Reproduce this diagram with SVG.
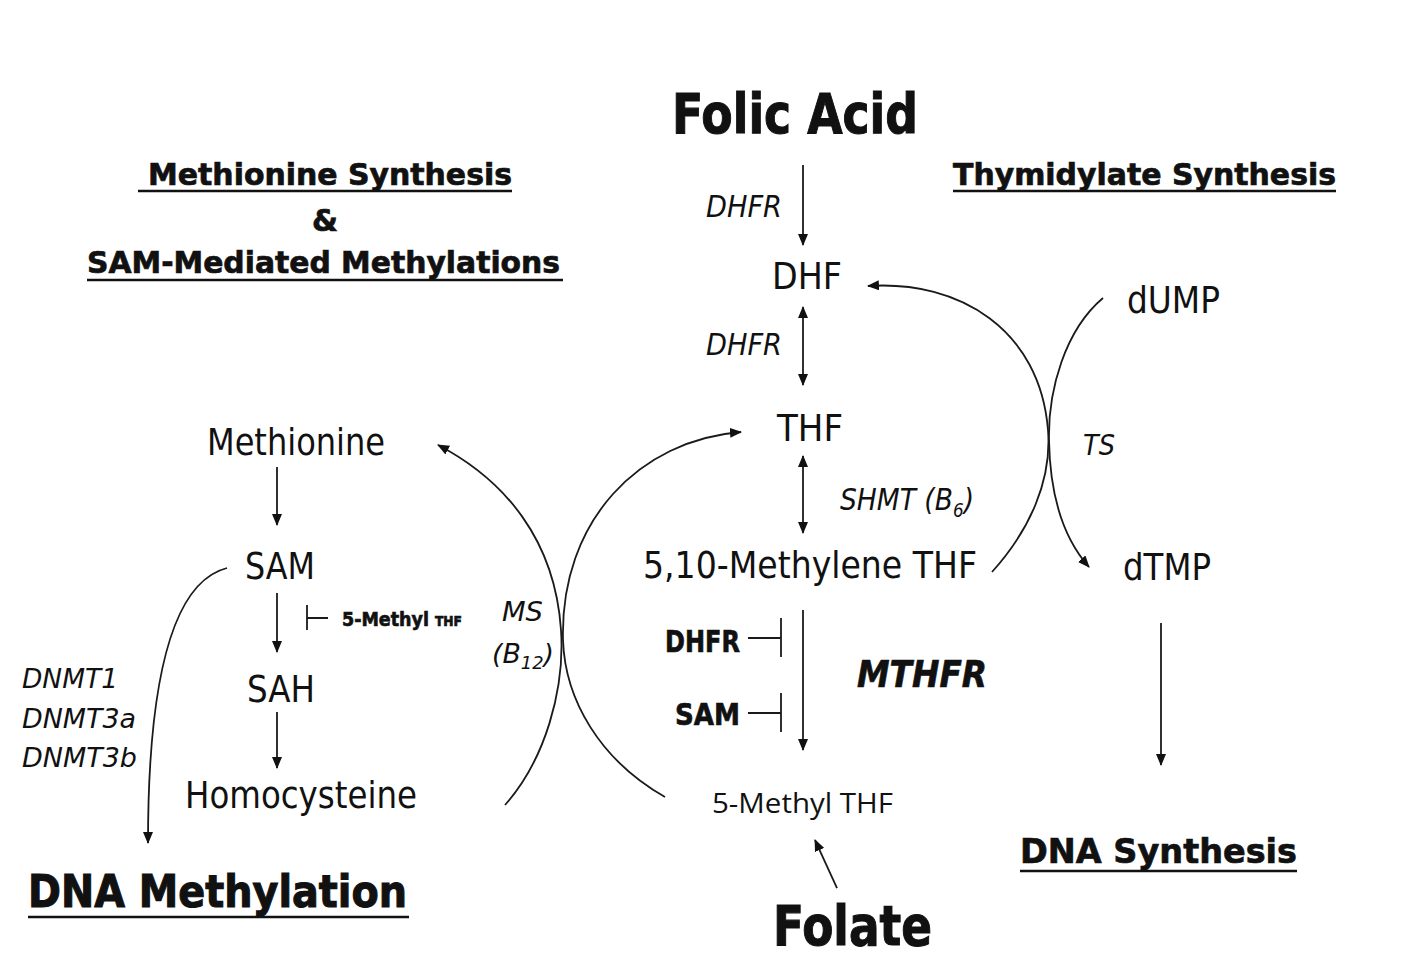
<svg xmlns="http://www.w3.org/2000/svg" width="1406" height="965" viewBox="0 0 1406 965">
<style>
.t{font-family:"DejaVu Sans","Liberation Sans",sans-serif;fill:#111}
.b{font-weight:bold;stroke:#111;stroke-width:0.7}
.bb{stroke-width:1.1}
.i{font-style:italic}
.c{font-family:"Open Sans","Noto Sans","Liberation Sans",sans-serif;fill:#111}
.ln{fill:none;stroke:#1a1a1a;stroke-width:1.8}
.ul{stroke:#111;stroke-width:2.6}
</style>
<defs>
<marker id="ah" viewBox="0 0 12 10" markerWidth="12" markerHeight="10" refX="11" refY="5" orient="auto-start-reverse" markerUnits="userSpaceOnUse">
<path d="M0,0 L12,5 L0,10 z" fill="#111"/>
</marker>
</defs>
<rect width="1406" height="965" fill="#fff"/>

<g id="folic-acid"><text class="t b bb" x="672" y="133" font-size="56" textLength="246" lengthAdjust="spacingAndGlyphs">Folic Acid</text></g>
<g id="heading-methionine">
<text class="t b" x="148" y="185" font-size="30" textLength="364" lengthAdjust="spacingAndGlyphs">Methionine Synthesis</text>
<line class="ul" x1="138" y1="191" x2="512" y2="191"/>
<text class="t b" x="312" y="231" font-size="30" textLength="26" lengthAdjust="spacingAndGlyphs">&amp;</text>
<text class="t b" x="87" y="273" font-size="30" textLength="473" lengthAdjust="spacingAndGlyphs">SAM-Mediated Methylations</text>
<line class="ul" x1="87" y1="280" x2="563" y2="280"/>
</g>
<g id="heading-thymidylate">
<text class="t b" x="953" y="185" font-size="30" textLength="383" lengthAdjust="spacingAndGlyphs">Thymidylate Synthesis</text>
<line class="ul" x1="953" y1="191" x2="1336" y2="191"/>
</g>
<g id="dhfr-label-1"><text class="t i" x="706" y="217" font-size="30" textLength="76" lengthAdjust="spacingAndGlyphs">DHFR</text></g>
<g id="dhf"><text class="t" x="772" y="289" font-size="38" textLength="70" lengthAdjust="spacingAndGlyphs">DHF</text></g>
<g id="dhfr-label-2"><text class="t i" x="706" y="355" font-size="30" textLength="76" lengthAdjust="spacingAndGlyphs">DHFR</text></g>
<g id="thf"><text class="t" x="777" y="441" font-size="38" textLength="66" lengthAdjust="spacingAndGlyphs">THF</text></g>
<g id="shmt-label"><text class="t i" x="840" y="510" font-size="30" textLength="134" lengthAdjust="spacingAndGlyphs">SHMT (B<tspan font-size="19" dy="7">6</tspan><tspan dy="-7">)</tspan></text></g>
<g id="methylene-thf"><text class="t" x="643" y="578" font-size="38" textLength="334" lengthAdjust="spacingAndGlyphs">5,10-Methylene THF</text></g>
<g id="dhfr-inhibitor"><text class="t b" x="665" y="652" font-size="30" textLength="75" lengthAdjust="spacingAndGlyphs">DHFR</text></g>
<g id="sam-inhibitor"><text class="t b" x="675" y="725" font-size="30" textLength="65" lengthAdjust="spacingAndGlyphs">SAM</text></g>
<g id="mthfr-label"><text class="t b i" x="857" y="687" font-size="37" textLength="130" lengthAdjust="spacingAndGlyphs">MTHFR</text></g>
<g id="methyl-thf"><text class="c" x="712" y="813" font-size="28" textLength="181" lengthAdjust="spacingAndGlyphs">5-Methyl THF</text></g>
<g id="folate"><text class="t b bb" x="773" y="945" font-size="55" textLength="159" lengthAdjust="spacingAndGlyphs">Folate</text></g>
<g id="dump"><text class="t" x="1127" y="313" font-size="38" textLength="93" lengthAdjust="spacingAndGlyphs">dUMP</text></g>
<g id="ts-label"><text class="t i" x="1083" y="455" font-size="28" textLength="32" lengthAdjust="spacingAndGlyphs">TS</text></g>
<g id="dtmp"><text class="t" x="1123" y="580" font-size="38" textLength="88" lengthAdjust="spacingAndGlyphs">dTMP</text></g>
<g id="dna-synthesis">
<text class="t b" x="1020" y="863" font-size="34" textLength="277" lengthAdjust="spacingAndGlyphs">DNA Synthesis</text>
<line class="ul" x1="1020" y1="871" x2="1297" y2="871"/>
</g>
<g id="methionine"><text class="t" x="207" y="455" font-size="38" textLength="178" lengthAdjust="spacingAndGlyphs">Methionine</text></g>
<g id="sam"><text class="t" x="245" y="579" font-size="38" textLength="70" lengthAdjust="spacingAndGlyphs">SAM</text></g>
<g id="methyl-thf-inhibitor"><text class="t b" x="342" y="626" font-size="20" stroke-width="0.3" textLength="120" lengthAdjust="spacingAndGlyphs">5-Methyl <tspan font-size="14">THF</tspan></text></g>
<g id="ms-label">
<text class="t i" x="502" y="621" font-size="27" textLength="41" lengthAdjust="spacingAndGlyphs">MS</text>
<text class="t i" x="492" y="663" font-size="27" textLength="62" lengthAdjust="spacingAndGlyphs">(B<tspan font-size="18" dy="6">12</tspan><tspan dy="-6">)</tspan></text>
</g>
<g id="sah"><text class="t" x="247" y="702" font-size="38" textLength="68" lengthAdjust="spacingAndGlyphs">SAH</text></g>
<g id="homocysteine"><text class="t" x="185" y="808" font-size="38" textLength="232" lengthAdjust="spacingAndGlyphs">Homocysteine</text></g>
<g id="dnmt-labels">
<text class="t i" x="22" y="688" font-size="27" textLength="96" lengthAdjust="spacingAndGlyphs">DNMT1</text>
<text class="t i" x="22" y="728" font-size="27" textLength="114" lengthAdjust="spacingAndGlyphs">DNMT3a</text>
<text class="t i" x="22" y="767" font-size="27" textLength="115" lengthAdjust="spacingAndGlyphs">DNMT3b</text>
</g>
<g id="dna-methylation">
<text class="t b bb" x="28" y="907" font-size="44" textLength="379" lengthAdjust="spacingAndGlyphs">DNA Methylation</text>
<line class="ul" x1="28" y1="917" x2="409" y2="917" stroke-width="3"/>
</g>

<g id="connectors">
<path class="ln" d="M803 165 L803 245" marker-end="url(#ah)"/>
<path class="ln" d="M803 307 L803 385" marker-start="url(#ah)" marker-end="url(#ah)"/>
<path class="ln" d="M803 456 L803 533" marker-start="url(#ah)" marker-end="url(#ah)"/>
<path class="ln" d="M803 610 L803 750" marker-end="url(#ah)"/>
<path class="ln" d="M748 638 H781 M781 618 V657"/>
<path class="ln" d="M748 713 H781 M781 693 V732"/>
<path class="ln" d="M837 888 L815 840" marker-end="url(#ah)"/>
<path class="ln" d="M277 467 L277 525" marker-end="url(#ah)"/>
<path class="ln" d="M277 593 L277 652" marker-end="url(#ah)"/>
<path class="ln" d="M277 712 L277 768" marker-end="url(#ah)"/>
<path class="ln" d="M307 605 V630 M307 618 H328"/>
<path class="ln" d="M227 568 C172 582 148 680 148 843" marker-end="url(#ah)"/>
<path class="ln" d="M505 805 C545 760 565 690 561 630 C555 540 505 480 438 445" marker-end="url(#ah)"/>
<path class="ln" d="M665 797 C600 760 565 700 563 640 C560 520 640 440 741 432" marker-end="url(#ah)"/>
<path class="ln" d="M992 572 C1030 530 1052 480 1048 430 C1040 330 960 280 868 286" marker-end="url(#ah)"/>
<path class="ln" d="M1103 298 C1065 330 1048 390 1049 440 C1050 500 1065 540 1089 567" marker-end="url(#ah)"/>
<path class="ln" d="M1161 623 L1161 765" marker-end="url(#ah)"/>
</g>
</svg>
